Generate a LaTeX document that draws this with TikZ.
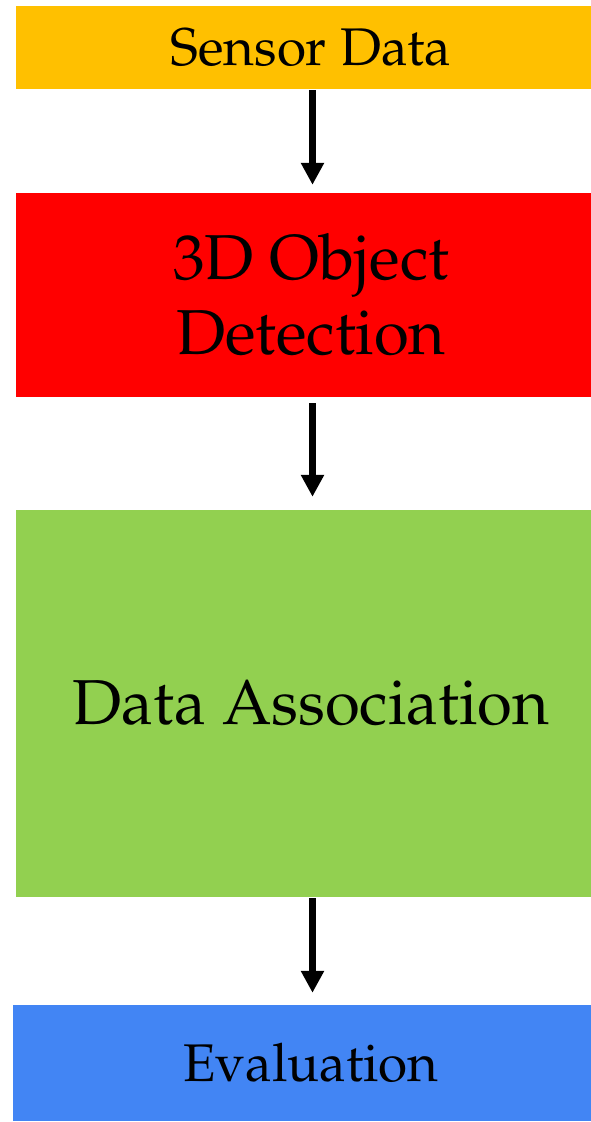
\documentclass[tikz,border=0pt]{standalone}
\usepackage[T1]{fontenc}
\usepackage{mathpazo}
\usetikzlibrary{arrows.meta}
\definecolor{cOrange}{HTML}{FFC000}
\definecolor{cRed}{HTML}{FF0000}
\definecolor{cGreen}{HTML}{92D050}
\definecolor{cBlue}{HTML}{4285F4}
\tikzset{
  blockbox/.style={rectangle, inner sep=0pt, align=center, text=black},
  arr/.style={line width=6.5pt, -{Triangle[length=22pt,width=22pt]}, black},
}
\begin{document}
\begin{tikzpicture}[x=1pt,y=-1pt]
\clip (0,0) rectangle (591,1122);
\fill[white] (0,0) rectangle (591,1122);
\node[blockbox, fill=cOrange, minimum width=590pt, minimum height=83pt, font=\fontsize{53}{64}\selectfont] (sensor) at (311,47.5) {Sensor Data};
\node[blockbox, fill=cRed, minimum width=590pt, minimum height=204pt, font=\fontsize{63.5}{75}\selectfont] (det) at (311,295) {3D Object\\Detection};
\node[blockbox, fill=cGreen, minimum width=590pt, minimum height=387pt, font=\fontsize{63.5}{75}\selectfont] (assoc) at (311,703.5) {Data Association};
\node[blockbox, fill=cBlue, minimum width=597pt, minimum height=116pt, font=\fontsize{53}{64}\selectfont] (eval) at (311,1063) {Evaluation};
\coordinate (ax) at (312.5,0);
\draw[arr, shorten <=1pt, shorten >=8pt] (sensor.south -| ax) -- (det.north -| ax);
\draw[arr, shorten <=6pt, shorten >=13pt] (det.south -| ax) -- (assoc.north -| ax);
\draw[arr, shorten <=1pt, shorten >=12pt] (assoc.south -| ax) -- (eval.north -| ax);
\end{tikzpicture}
\end{document}
